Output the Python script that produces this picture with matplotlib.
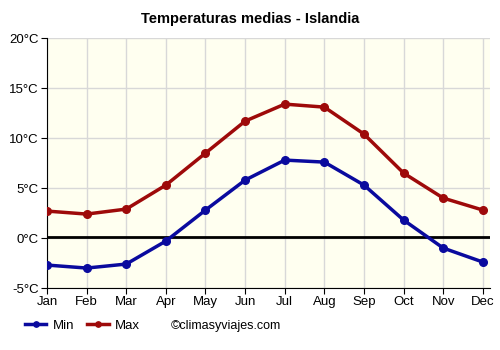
import matplotlib.pyplot as plt
import numpy as np

plt.rcParams["font.family"] = ["Liberation Sans", "DejaVu Sans"]

meses = ["Jan", "Feb", "Mar", "Apr", "May", "Jun", "Jul", "Aug", "Sep", "Oct", "Nov", "Dec"]
t_min = [-2.7, -3.0, -2.6, -0.3, 2.8, 5.8, 7.8, 7.6, 5.3, 1.8, -1.0, -2.4]
t_max = [2.7, 2.4, 2.9, 5.3, 8.5, 11.7, 13.4, 13.1, 10.4, 6.5, 4.0, 2.8]
y_ticks = [-5, 0, 5, 10, 15, 20]

fig = plt.figure(figsize=(5, 3.5), dpi=100)
ax = fig.add_axes([0.094, 0.177, 0.886, 0.714])
ax.set_facecolor("#fffff0")

x = np.arange(len(meses))
ax.axhline(0.1, color="black", lw=2, zorder=2)
l1, = ax.plot(x, t_min, color="#0a0a9e", lw=2.5, marker="o", ms=5.5, zorder=3, label="Min")
l2, = ax.plot(x, t_max, color="#9e0a0a", lw=2.5, marker="o", ms=5.5, zorder=3, label="Max")

ax.set_xlim(0, 11.18)
ax.set_ylim(-5, 20)
ax.set_xticks(x)
ax.set_xticklabels(meses)
ax.set_yticks(y_ticks)
ax.set_yticklabels([f"{v}°C" for v in y_ticks])
ax.grid(True, color="#d8d8d8", lw=1)
ax.set_axisbelow(True)
for s in ["top", "right"]:
    ax.spines[s].set_visible(False)
ax.tick_params(labelsize=9.5, length=4, direction="out", pad=2)

fig.suptitle("Temperaturas medias - Islandia", fontsize=10.5, fontweight="bold", y=0.965)

fig.legend(handles=[l1, l2], loc="center left", bbox_to_anchor=(0.05, 0.069), ncol=2,
           frameon=False, fontsize=9.5, handlelength=1.6, columnspacing=1.0,
           handletextpad=0.5, markerscale=0.7, borderaxespad=0, borderpad=0)
fig.text(0.342, 0.069, "©climasyviajes.com", fontsize=9, va="center")

fig.savefig("out.png", dpi=100)
